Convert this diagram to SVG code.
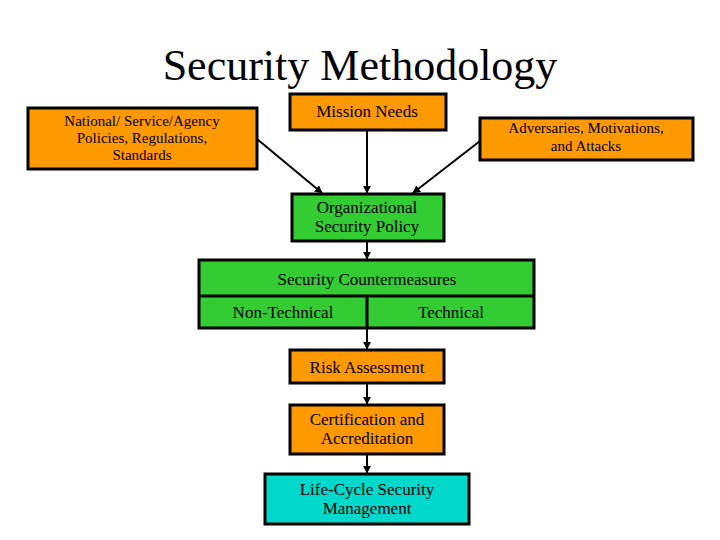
<svg xmlns="http://www.w3.org/2000/svg" width="720" height="540" viewBox="0 0 720 540">
<style>
text{font-family:"Liberation Serif","Times New Roman",serif;fill:#000;text-anchor:middle}
.o{fill:#ff9900;stroke:#000;stroke-width:3}
.g{fill:#33cc33;stroke:#000;stroke-width:3}
.c{fill:#00d8cc;stroke:#000;stroke-width:3}
.l{stroke:#000;stroke-width:2;fill:none;marker-end:url(#a)}
.s{font-size:15px}
.m{font-size:17px}
</style>
<defs><marker id="a" viewBox="0 0 10 10" refX="9" refY="5" markerWidth="4" markerHeight="4" orient="auto"><path d="M0,0L10,5L0,10z" fill="#000"/></marker></defs>
<rect width="720" height="540" fill="#fff"/>
<text x="360" y="80" font-size="44">Security Methodology</text>
<g id="national"><rect class="o" x="28" y="108" width="229" height="61"/><text class="s" x="142" y="126">National/ Service/Agency</text><text class="s" x="142" y="143">Policies, Regulations,</text><text class="s" x="142" y="160">Standards</text></g>
<g id="mission"><rect class="o" x="290" y="94" width="156" height="36"/><text class="m" x="367" y="117">Mission Needs</text></g>
<g id="adversaries"><rect class="o" x="480" y="118" width="213" height="42"/><text class="s" x="586" y="133">Adversaries, Motivations,</text><text class="s" x="586" y="151">and Attacks</text></g>
<g id="org"><rect class="g" x="292" y="194" width="152" height="47"/><text class="m" x="367" y="213">Organizational</text><text class="m" x="367" y="232">Security Policy</text></g>
<g id="counter"><rect class="g" x="199" y="260" width="335" height="68"/><line x1="199" y1="296" x2="534" y2="296" stroke="#000" stroke-width="3"/><line x1="367" y1="296" x2="367" y2="328" stroke="#000" stroke-width="3"/><text class="m" x="367" y="285">Security Countermeasures</text><text class="m" x="283" y="318">Non-Technical</text><text class="m" x="451" y="318">Technical</text></g>
<g id="risk"><rect class="o" x="290" y="350" width="154" height="33"/><text class="m" x="367" y="373">Risk Assessment</text></g>
<g id="cert"><rect class="o" x="290" y="405" width="154" height="49"/><text class="m" x="367" y="425">Certification and</text><text class="m" x="367" y="444">Accreditation</text></g>
<g id="life"><rect class="c" x="265" y="474" width="204" height="50"/><text class="m" x="367" y="495">Life-Cycle Security</text><text class="m" x="367" y="514">Management</text></g>
<g id="connectors">
<line class="l" x1="257" y1="139" x2="322" y2="193"/>
<line class="l" x1="367" y1="130" x2="367" y2="193"/>
<line class="l" x1="480" y1="141" x2="413" y2="193"/>
<line class="l" x1="367" y1="241" x2="367" y2="259"/>
<line class="l" x1="367" y1="328" x2="367" y2="349"/>
<line class="l" x1="367" y1="383" x2="367" y2="404"/>
<line class="l" x1="367" y1="454" x2="367" y2="473"/>
</g>
</svg>
